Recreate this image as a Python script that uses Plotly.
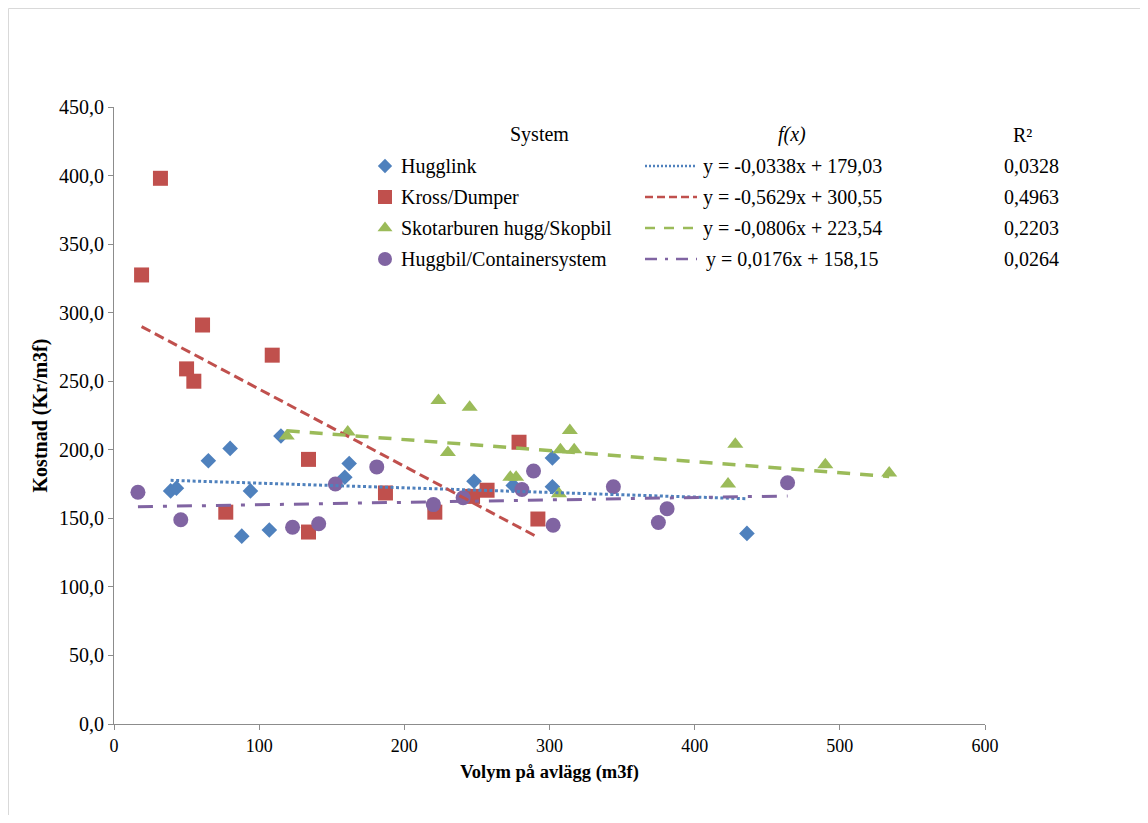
import plotly.graph_objects as go

# ---------------- data ----------------
series_names = ["Hugglink", "Kross/Dumper", "Skotarburen hugg/Skopbil", "Huggbil/Containersystem"]

hugglink_x = [39, 43, 65, 80, 88, 94, 107, 115, 159, 162, 248, 275, 302, 302, 436]
hugglink_y = [170, 172, 192, 201, 137, 170, 141.5, 210, 180, 190, 177, 174, 194, 173, 139]

kross_x = [19, 32, 50, 55, 61, 77, 109, 134, 134, 187, 221, 247, 257, 279, 292]
kross_y = [327.5, 398, 259, 250, 291, 154.5, 269, 193, 140, 168.5, 154.5, 166, 170.5, 205.5, 149.5]

skot_x = [119, 161, 223.5, 245, 230, 273, 277, 306.5, 314, 307.5, 317, 423, 428, 490, 534]
skot_y = [210, 213, 236, 231, 198, 180, 180, 168, 214, 200, 200, 175, 204, 189, 183]

huggbil_x = [16.5, 46, 123, 141, 152.5, 181, 220, 240.5, 289, 281, 302.5, 344, 375, 381, 464]
huggbil_y = [169, 149, 143.5, 146, 175, 187.5, 160, 165, 184.5, 171, 145, 173, 147, 157, 176]

trend_slopes = [-0.0338, -0.5629, -0.0806, 0.0176]
trend_intercepts = [179.03, 300.55, 223.54, 158.15]
r2_labels = ["0,0328", "0,4963", "0,2203", "0,0264"]

x_ticks = [0, 100, 200, 300, 400, 500, 600]
y_ticks = [0, 50, 100, 150, 200, 250, 300, 350, 400, 450]

# ---------------- styles ----------------
colors = ["#4F81BD", "#C0504D", "#9BBB59", "#8064A2"]
symbols = ["diamond", "square", "triangle-up", "circle"]
marker_sizes = [12, 15, 14, 15]
trend_dash = ["3px,2.5px", "10px,5px", "13px,10px", "15px,10px,4px,10px"]
trend_width = [3, 3, 3.5, 3]
legend_dash = ["2px,2px", "8px,4px", "10px,9px", "12px,8px,3px,8px"]
legend_marker_sizes = [11, 14, 13, 14]

SERIF = "Liberation Serif"

# page has an 8px body margin; figure is sized to fit inside the window
OFF = 8
W, H = 1148 - 2 * OFF, 823 - 2 * OFF
# plot area in window pixels: x 114..985, y 107..724
ML, MT = 114 - OFF, 107 - OFF
MR, MB = W - (985 - OFF), H - (724 - OFF)
PW, PH = W - ML - MR, H - MT - MB


def px(x):
    """window pixel x -> paper coordinate"""
    return (x - OFF - ML) / PW


def py(y):
    """window pixel y -> paper coordinate"""
    return (H - MB - (y - OFF)) / PH


xs = [hugglink_x, kross_x, skot_x, huggbil_x]
ys = [hugglink_y, kross_y, skot_y, huggbil_y]

fig = go.Figure()

for i in range(4):
    fig.add_trace(go.Scatter(
        x=xs[i], y=ys[i], mode="markers", name=series_names[i],
        marker=dict(symbol=symbols[i], size=marker_sizes[i], color=colors[i],
                    line=dict(width=0)),
        showlegend=False, hoverinfo="x+y",
    ))

for i in range(4):
    x0, x1 = min(xs[i]), max(xs[i])
    fig.add_trace(go.Scatter(
        x=[x0, x1],
        y=[trend_slopes[i] * x0 + trend_intercepts[i], trend_slopes[i] * x1 + trend_intercepts[i]],
        mode="lines", name=series_names[i] + " trend",
        line=dict(color=colors[i], width=trend_width[i], dash=trend_dash[i]),
        showlegend=False, hoverinfo="skip",
    ))

# ---------------- custom legend table ----------------
LEG_HEADER_Y = 135
LEG_ROW_Y = [166, 197, 228, 259]
LEG_MARKER_X = 385
LEG_NAME_X = 399
LEG_LINE_X = (645, 697)
LEG_EQ_CX = 792
LEG_R2_CX = 1031
LEG_FONT = 20

annotations = []
for text, cx in [("System", 539), ("<i>f(x)</i>", 792), ("R²", 1022)]:
    annotations.append(dict(x=px(cx), y=py(LEG_HEADER_Y), xref="paper", yref="paper",
                            text=text, showarrow=False, xanchor="center", yanchor="middle",
                            font=dict(family=SERIF, size=LEG_FONT, color="#000000")))

for i in range(4):
    yy = py(LEG_ROW_Y[i])
    fig.add_trace(go.Scatter(
        x=[px(LEG_MARKER_X)], y=[yy], xaxis="x2", yaxis="y2", mode="markers",
        marker=dict(symbol=symbols[i], size=legend_marker_sizes[i], color=colors[i], line=dict(width=0)),
        showlegend=False, hoverinfo="skip",
    ))
    annotations.append(dict(x=px(LEG_NAME_X), y=yy, xref="paper", yref="paper",
                            text=series_names[i], showarrow=False, xanchor="left", yanchor="middle",
                            font=dict(family=SERIF, size=LEG_FONT, color="#000000")))
    eq = "y = {:.4f}x + {:.2f}".format(trend_slopes[i], trend_intercepts[i]).replace(".", ",")
    annotations.append(dict(x=px(LEG_EQ_CX), y=yy, xref="paper", yref="paper",
                            text=eq, showarrow=False, xanchor="center", yanchor="middle",
                            font=dict(family=SERIF, size=LEG_FONT, color="#000000")))
    annotations.append(dict(x=px(LEG_R2_CX), y=yy, xref="paper", yref="paper",
                            text=r2_labels[i], showarrow=False, xanchor="center", yanchor="middle",
                            font=dict(family=SERIF, size=LEG_FONT, color="#000000")))

shapes = []
for i in range(4):
    yy = py(LEG_ROW_Y[i])
    shapes.append(dict(type="line", xref="paper", yref="paper",
                       x0=px(LEG_LINE_X[0]), x1=px(LEG_LINE_X[1]), y0=yy, y1=yy,
                       line=dict(color=colors[i], width=2.5, dash=legend_dash[i])))

# outer light frame (top & left visible)
shapes.append(dict(type="rect", xref="paper", yref="paper",
                   x0=px(OFF + 0.5), x1=px(W + 100), y0=py(H + 100), y1=py(OFF + 0.5),
                   line=dict(color="#D9D9D9", width=1), layer="below"))

axis_common = dict(showgrid=False, zeroline=False, showline=True, linecolor="#8C8C8C",
                   linewidth=1, ticks="outside", ticklen=5, tickcolor="#8C8C8C",
                   mirror=False)

fig.update_layout(
    width=W, height=H,
    margin=dict(l=ML, r=MR, t=MT, b=MB, autoexpand=False),
    paper_bgcolor="white", plot_bgcolor="white",
    separators=", ",
    showlegend=False,
    xaxis=dict(range=[0, 600], tickvals=x_ticks, tickformat="d",
               tickfont=dict(family=SERIF, size=18, color="#000000"),
               title=dict(text="<b>Volym på avlägg (m3f)</b>", standoff=10,
                          font=dict(family=SERIF, size=18.5, color="#000000")),
               **axis_common),
    yaxis=dict(range=[0, 450], tickvals=y_ticks, tickformat=".1f",
               tickfont=dict(family=SERIF, size=20, color="#000000"),
               title=dict(text="<b>Kostnad (Kr/m3f)</b>", standoff=6,
                          font=dict(family=SERIF, size=20, color="#000000")),
               **axis_common),
    xaxis2=dict(overlaying="x", range=[0, 1], visible=False, domain=[0, 1]),
    yaxis2=dict(overlaying="y", range=[0, 1], visible=False, domain=[0, 1]),
    annotations=annotations,
    shapes=shapes,
)

fig.write_html("out.html")
